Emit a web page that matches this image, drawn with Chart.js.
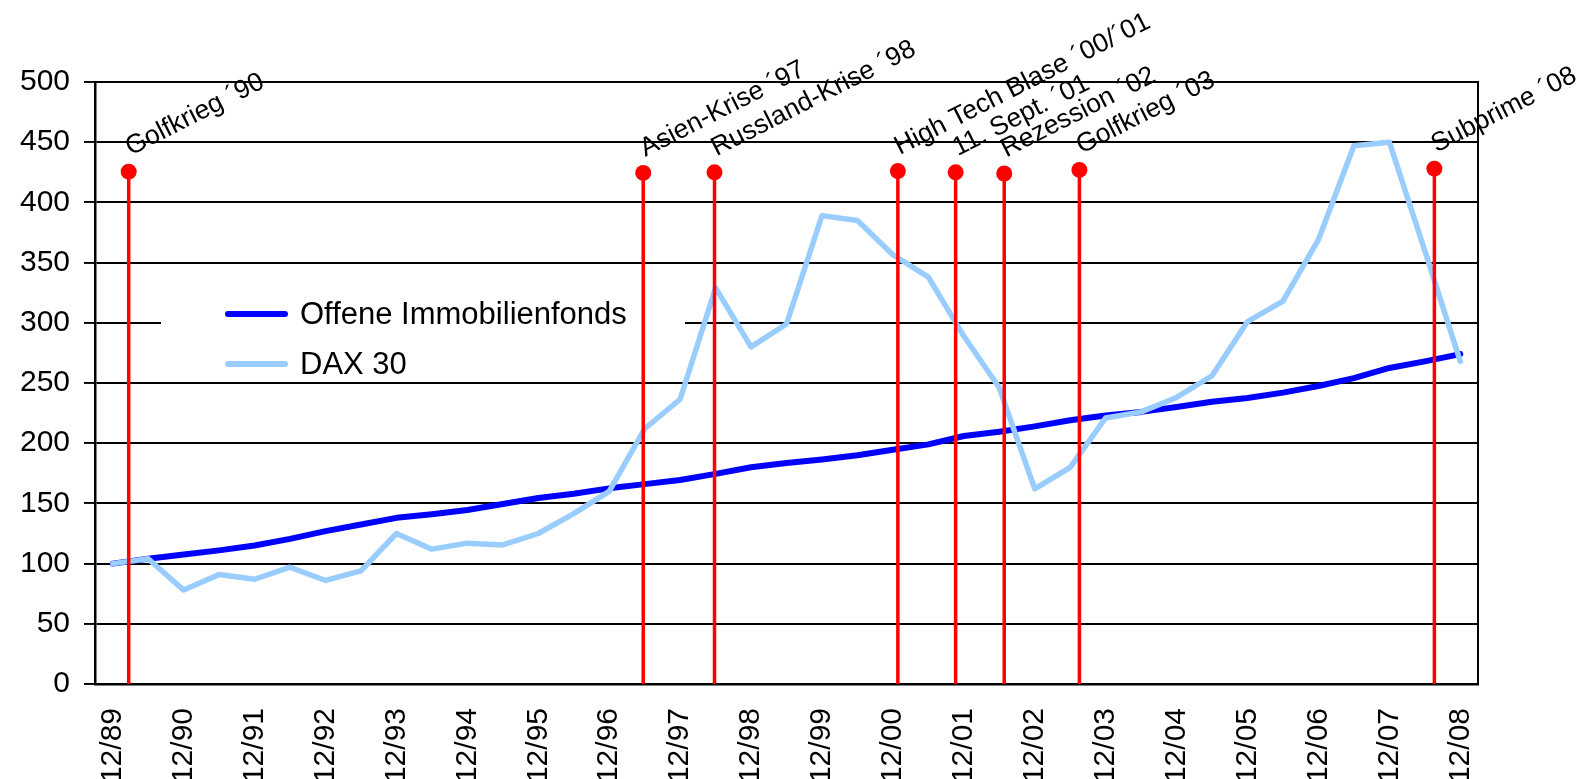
<!DOCTYPE html>
<html>
<head>
<meta charset="utf-8">
<script src="https://cdn.jsdelivr.net/npm/chart.js@4.4.0/dist/chart.umd.min.js"></script>
<style>
  html, body { margin: 0; padding: 0; background: #fff; }
  canvas { display: block; }
</style>
</head>
<body>
<canvas id="chart" width="1583" height="779"></canvas>
<script>
// Offene Immobilienfonds vs. DAX 30, indexed 12/89 = 100.
// Values are half-yearly (index 0 = 12/89, 1 = 6/90, ... 38 = 12/08).

const yearLabels = ['12/89', '12/90', '12/91', '12/92', '12/93', '12/94', '12/95', '12/96', '12/97', '12/98',
  '12/99', '12/00', '12/01', '12/02', '12/03', '12/04', '12/05', '12/06', '12/07', '12/08'];

const immoValues = [100, 104, 107.5, 111, 115, 120.5, 127, 132.5, 138, 141,
  144.5, 149.5, 154.5, 158, 162.5, 166, 169.5, 174.5, 180, 183.5,
  186.5, 190, 194.5, 199, 206, 209.5, 214, 219, 223, 226,
  230, 234.5, 237.5, 242, 247.5, 254, 262.5, 268, 274];

const daxValues = [100, 104, 78, 91, 87, 97, 86, 94, 125, 112,
  117, 115.5, 125, 141.5, 160, 212, 236.5, 329, 280, 299,
  389, 385, 356.5, 338, 289, 246, 162, 180, 221, 226,
  238, 256, 301, 318, 369, 447, 450, 360, 268];

const seriesNames = ['Offene Immobilienfonds', 'DAX 30'];

// Crisis markers: name, position on the half-year scale, height of the dot
const eventNames = ['Golfkrieg \u00B490', 'Asien-Krise \u00B497', 'Russland-Krise \u00B498',
  'High Tech Blase \u00B400/\u00B401', '11. Sept. \u00B401', 'Rezession \u00B402',
  'Golfkrieg \u00B403', 'Subprime \u00B408'];
const eventPos = [0.45, 14.96, 16.97, 22.14, 23.77, 25.14, 27.26, 37.27];
const eventLevel = [425.5, 424.5, 425, 426, 425, 424, 427, 428];

const FONT = '"Liberation Sans", Arial, sans-serif';
const IMMO_COLOR = '#0000ff';
const DAX_COLOR = '#99ccff';
const EVENT_COLOR = '#ff0000';

const toPoints = vals => vals.map((v, i) => ({ x: i, y: v }));

const datasets = [
  {
    label: seriesNames[0],
    data: toPoints(immoValues),
    borderColor: IMMO_COLOR,
    borderWidth: 6,
    pointRadius: 0,
    borderJoinStyle: 'round',
    borderCapStyle: 'round',
    order: 2,
  },
  {
    label: seriesNames[1],
    data: toPoints(daxValues),
    borderColor: DAX_COLOR,
    borderWidth: 5.5,
    pointRadius: 0,
    borderJoinStyle: 'round',
    borderCapStyle: 'round',
    order: 1,
  },
];

eventPos.forEach((p, k) => {
  datasets.push({
    label: eventNames[k],
    isEvent: true,
    data: [{ x: p, y: 0 }, { x: p, y: eventLevel[k] }],
    borderColor: EVENT_COLOR,
    borderWidth: 3.5,
    pointRadius: [0, 8],
    pointBackgroundColor: EVENT_COLOR,
    pointBorderWidth: 0,
    order: 0,
  });
});

// --- Plugins: frame + legend box (under the lines), event captions ---
const framePlugin = {
  id: 'frame',
  beforeDatasetsDraw(chart) {
    const { ctx, chartArea: a } = chart;
    ctx.save();
    ctx.strokeStyle = '#000';
    ctx.lineWidth = 2;
    ctx.beginPath();
    ctx.moveTo(a.left, a.top);
    ctx.lineTo(a.right, a.top);
    ctx.lineTo(a.right, a.bottom);
    ctx.stroke();

    // legend sits on a white box that hides the gridline behind it
    ctx.fillStyle = '#fff';
    ctx.fillRect(161, 288, 524, 84);
    ctx.font = '31px ' + FONT;
    ctx.textAlign = 'left';
    ctx.textBaseline = 'middle';
    chart.data.datasets.slice(0, 2).forEach((ds, k) => {
      const y = 314 + k * 50;
      ctx.strokeStyle = ds.borderColor;
      ctx.lineWidth = 6;
      ctx.lineCap = 'round';
      ctx.beginPath();
      ctx.moveTo(228, y);
      ctx.lineTo(285, y);
      ctx.stroke();
      ctx.fillStyle = '#000';
      ctx.fillText(ds.label, 300, y + 1);
    });
    ctx.restore();
  },
};

const eventLabelPlugin = {
  id: 'eventLabels',
  afterDatasetsDraw(chart) {
    const { ctx } = chart;
    ctx.save();
    ctx.fillStyle = '#000';
    ctx.font = '26.5px ' + FONT;
    ctx.textAlign = 'left';
    ctx.textBaseline = 'alphabetic';
    chart.data.datasets.forEach((ds, i) => {
      if (!ds.isEvent) return;
      const top = chart.getDatasetMeta(i).data[1];
      ctx.save();
      ctx.translate(top.x + 2, top.y - 16);
      ctx.rotate(-27 * Math.PI / 180);
      ctx.fillText(ds.label, 0, 0);
      ctx.restore();
    });
    ctx.restore();
  },
};

new Chart(document.getElementById('chart'), {
  type: 'line',
  data: { datasets },
  options: {
    responsive: false,
    animation: false,
    events: [],
    devicePixelRatio: 1,
    layout: { padding: { top: 82, right: 105, left: 0, bottom: 0 } },
    plugins: { legend: { display: false }, tooltip: { enabled: false } },
    scales: {
      x: {
        type: 'linear',
        min: -0.5,
        max: 38.5,
        afterFit: s => { s.height = 95; },
        afterBuildTicks: s => { s.ticks = yearLabels.map((_, k) => ({ value: 2 * k })); },
        grid: { display: false, drawTicks: false },
        border: { display: true, color: '#000', width: 2.5 },
        ticks: {
          autoSkip: false,
          minRotation: 90,
          maxRotation: 90,
          padding: 24,
          color: '#000',
          font: { family: FONT, size: 30 },
          callback: v => yearLabels[Math.round(v / 2)] ?? '',
        },
      },
      y: {
        min: 0,
        max: 500,
        afterFit: s => { s.width = 95; },
        grid: { color: '#000', lineWidth: 1.9, tickLength: 11, drawTicks: true },
        border: { display: true, color: '#000', width: 2.5 },
        ticks: {
          stepSize: 50,
          padding: 14,
          color: '#000',
          font: { family: FONT, size: 30 },
        },
      },
    },
  },
  plugins: [framePlugin, eventLabelPlugin],
});
</script>
</body>
</html>
